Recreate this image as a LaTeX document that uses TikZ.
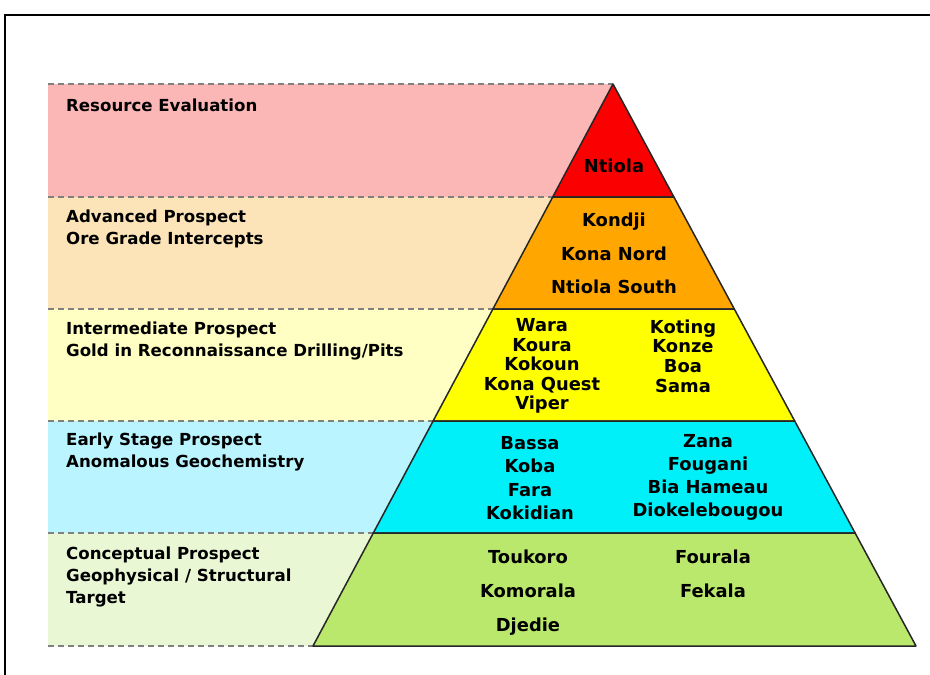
\documentclass[tikz,border=0pt]{standalone}
\usepackage{fontspec}
\setmainfont{DejaVu Sans}
\definecolor{pinkpanel}{RGB}{251,182,182}
\definecolor{tanpanel}{RGB}{252,228,184}
\definecolor{yelpanel}{RGB}{255,255,196}
\definecolor{cyanpanel}{RGB}{186,244,255}
\definecolor{greenpanel}{RGB}{234,247,212}
\definecolor{pyrred}{RGB}{250,0,0}
\definecolor{pyrorange}{RGB}{255,166,0}
\definecolor{pyryellow}{RGB}{255,255,0}
\definecolor{pyrcyan}{RGB}{0,240,250}
\definecolor{pyrgreen}{RGB}{186,232,108}
\definecolor{guidegray}{RGB}{128,128,128}
\begin{document}
\begin{tikzpicture}[x=1pt,y=-1pt,
  lbl/.style={font=\bfseries\fontsize{16.6}{22}\selectfont, anchor=west, align=left, inner sep=0pt},
  pname/.style={font=\bfseries\fontsize{17.9}{19.6}\selectfont, align=center, inner sep=0pt},
  guide/.style={draw=guidegray, dash pattern=on 6pt off 4pt, line width=1.2pt},
  band/.style={draw=black!85, line width=1.5pt, line join=round}]
\useasboundingbox (0,0) rectangle (930,675);
\fill[white] (0,0) rectangle (930,675);
\draw[line width=2pt] (5,675) -- (5,15) -- (930,15);
% pyramid edge points
\coordinate (apex) at (613,84);
\coordinate (l1) at (552.7,197); \coordinate (r1) at (673.9,197);
\coordinate (l2) at (492.9,309); \coordinate (r2) at (734.3,309);
\coordinate (l3) at (433.1,421); \coordinate (r3) at (794.7,421);
\coordinate (l4) at (373.3,533); \coordinate (r4) at (855.1,533);
\coordinate (l5) at (313,646);   \coordinate (r5) at (916,646);
% left panels
\fill[pinkpanel]  (48,84)  -- (apex) -- (l1) -- (48,197) -- cycle;
\fill[tanpanel]   (48,197) -- (l1) -- (l2) -- (48,309) -- cycle;
\fill[yelpanel]   (48,309) -- (l2) -- (l3) -- (48,421) -- cycle;
\fill[cyanpanel]  (48,421) -- (l3) -- (l4) -- (48,533) -- cycle;
\fill[greenpanel] (48,533) -- (l4) -- (l5) -- (48,646) -- cycle;
% guide lines
\draw[guide] (48,84) -- (apex);
\draw[guide] (48,197) -- (l1);
\draw[guide] (48,309) -- (l2);
\draw[guide] (48,421) -- (l3);
\draw[guide] (48,533) -- (l4);
\draw[guide] (48,646) -- (l5);
% pyramid bands
\filldraw[band, fill=pyrred]    (apex) -- (r1) -- (l1) -- cycle;
\filldraw[band, fill=pyrorange] (l1) -- (r1) -- (r2) -- (l2) -- cycle;
\filldraw[band, fill=pyryellow] (l2) -- (r2) -- (r3) -- (l3) -- cycle;
\filldraw[band, fill=pyrcyan]   (l3) -- (r3) -- (r4) -- (l4) -- cycle;
\filldraw[band, fill=pyrgreen]  (l4) -- (r4) -- (r5) -- (l5) -- cycle;
% stage labels
\node[lbl] (s1) at (66,105) {Resource Evaluation};
\node[lbl] (s2) at (66,229) {Advanced Prospect\\Ore Grade Intercepts};
\node[lbl] (s3) at (66,341) {Intermediate Prospect\\Gold in Reconnaissance Drilling/Pits};
\node[lbl] (s4) at (66,452) {Early Stage Prospect\\Anomalous Geochemistry};
\node[lbl] (s5) at (66,577) {Conceptual Prospect\\Geophysical / Structural\\Target};
% prospects
\node[pname] (p1) at (614,166) {Ntiola};
\node[pname] (p2a) at (614,222) {Kondji};
\node[pname] (p2b) at (614,254) {Kona Nord};
\node[pname] (p2c) at (614,287) {Ntiola South};
\node[pname] (p3a) at (542,366) {Wara\\Koura\\Kokoun\\Kona Quest\\Viper};
\node[pname] (p3b) at (683,356) {Koting\\Konze\\Boa\\Sama};
\node[pname, font=\bfseries\fontsize{17.9}{23.3}\selectfont] (p4a) at (530,478) {Bassa\\Koba\\Fara\\Kokidian};
\node[pname, font=\bfseries\fontsize{17.9}{23}\selectfont] (p4b) at (708,477) {Zana\\Fougani\\Bia Hameau\\Diokelebougou};
\node[pname] (p5a) at (528,557) {Toukoro};
\node[pname] (p5b) at (528,591) {Komorala};
\node[pname] (p5c) at (528,627) {Djedie};
\node[pname] (p5d) at (713,557) {Fourala};
\node[pname] (p5e) at (713,591) {Fekala};
\end{tikzpicture}
\end{document}
